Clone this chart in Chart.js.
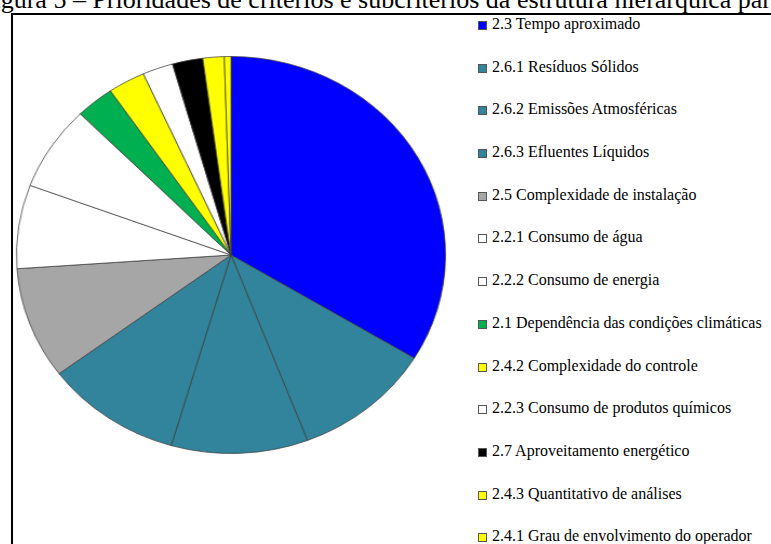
<!DOCTYPE html>
<html>
<head>
<meta charset="utf-8">
<script src="https://cdn.jsdelivr.net/npm/chart.js@4"></script>
<style>
  html, body { margin:0; padding:0; background:#fff; }
  body { width:771px; height:544px; overflow:hidden; position:relative; font-family:"Liberation Serif","Times New Roman",serif; }
  #title { position:absolute; left:-21px; top:-13px; font-size:26px; line-height:26px; white-space:nowrap; color:#000; }
  #frame { position:absolute; left:11px; top:13px; width:800px; height:600px; border:2px solid #000; }
  #pieWrap { position:absolute; left:32px; top:56px; width:398px; height:398px; transform:scaleX(1.0808); transform-origin:50% 50%; }
  #legend { position:absolute; left:478px; top:14px; margin:0; padding:0; list-style:none; font-size:16px; color:#000; }
  #legend li { height:42.7px; line-height:20px; display:flex; align-items:flex-start; white-space:nowrap; }
  #legend li span.box { width:7px; height:7px; border:1px solid #555; margin-right:5px; display:inline-block; }
</style>
</head>
<body>
<div id="title">Figura 5 – Prioridades de critérios e subcritérios da estrutura hierárquica para</div>
<div id="frame"></div>
<div id="pieWrap"><canvas id="pie" width="398" height="398"></canvas></div>
<ul id="legend"></ul>
<script>
// priorities (percent)
const labels = [
  '2.3 Tempo aproximado',
  '2.6.1 Resíduos Sólidos',
  '2.6.2 Emissões Atmosféricas',
  '2.6.3 Efluentes Líquidos',
  '2.5 Complexidade de instalação',
  '2.2.1 Consumo de água',
  '2.2.2 Consumo de energia',
  '2.1 Dependência das condições climáticas',
  '2.4.2 Complexidade do controle',
  '2.2.3 Consumo de produtos químicos',
  '2.7 Aproveitamento energético',
  '2.4.3 Quantitativo de análises',
  '2.4.1 Grau de envolvimento do operador'
];
const priorities = [33.7, 10.5, 10.3, 10.3, 9.1, 6.8, 6.9, 2.9, 2.8, 2.3, 2.3, 1.6, 0.5];
const colors = ['#0000ff','#31849b','#31849b','#31849b','#a6a6a6','#ffffff','#ffffff',
                '#00b050','#ffff00','#ffffff','#000000','#ffff00','#ffff00'];

new Chart(document.getElementById('pie'), {
  type:'pie',
  data:{ labels, datasets:[{ data:priorities, backgroundColor:colors, borderColor:'rgba(60,60,60,0.75)', borderWidth:1 }] },
  options:{
    responsive:false, animation:false,
    layout:{ padding:0 },
    plugins:{ legend:{ display:false }, tooltip:{ enabled:false } }
  }
});

// legend as html so the stretched pie canvas does not distort text
const ul = document.getElementById('legend');
labels.forEach((l,i)=>{
  const li = document.createElement('li');
  const box = document.createElement('span');
  box.className = 'box';
  box.style.background = colors[i];
  box.style.marginTop = '7px';
  li.appendChild(box);
  li.appendChild(document.createTextNode(l));
  ul.appendChild(li);
});
</script>
</body>
</html>
